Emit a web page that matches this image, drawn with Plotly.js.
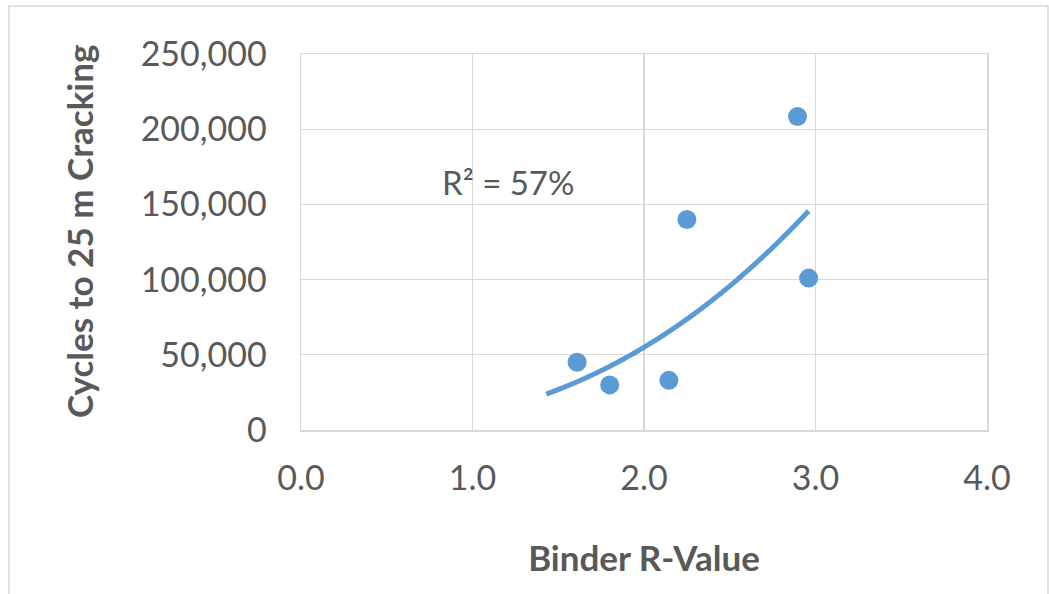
<!DOCTYPE html>
<html>
<head>
<meta charset="utf-8">
<script src="https://cdn.plot.ly/plotly-3.0.1.min.js"></script>
<style>html,body{margin:0;padding:0;background:#fff;}#chart{width:1049px;height:594px;}</style>
</head>
<body>
<div id="chart"></div>
<script>
// Data
const binderR = [1.61, 1.80, 2.145, 2.25, 2.895, 2.96];
const cycles = [45000, 30000, 33000, 140000, 208500, 101000];
const xTickVals = [0, 1, 2, 3, 4];
const yTickVals = [0, 50000, 100000, 150000, 200000, 250000];
const trendBackward = 0.18; // Excel-style backward forecast on the trendline

// Power trendline fit (least squares in log-log space)
const lx = binderR.map(Math.log), ly = cycles.map(Math.log);
const n = lx.length;
const mx = lx.reduce((a,b)=>a+b,0)/n, my = ly.reduce((a,b)=>a+b,0)/n;
let sxy=0, sxx=0, syy=0;
for (let i=0;i<n;i++){sxy+=(lx[i]-mx)*(ly[i]-my);sxx+=(lx[i]-mx)**2;syy+=(ly[i]-my)**2;}
const b = sxy/sxx, lnA = my - b*mx;
const r2 = sxy*sxy/(sxx*syy);
const x0 = Math.min(...binderR) - trendBackward, x1 = Math.max(...binderR);
const tx=[], ty=[];
for (let i=0;i<=80;i++){const x=x0+(x1-x0)*i/80;tx.push(x);ty.push(Math.exp(lnA)*Math.pow(x,b));}

const blue = '#5b9bd5';
const grey = '#595959';
const grid = '#d9d9d9';
const font = 'Lato, "Open Sans", sans-serif';

const traces = [
  {x: tx, y: ty, mode:'lines', line:{color: blue, width:5, shape:'spline'}, hoverinfo:'skip', showlegend:false},
  {x: binderR, y: cycles, mode:'markers', marker:{color: blue, size:19}, showlegend:false}
];

const W=1049, H=594, L=301, R=62, T=54, B=164;
const pw=W-L-R, ph=H-T-B;
const layout = {
  width: W, height: H, autosize:false,
  margin:{l:L, r:R, t:T, b:B, pad:0},
  paper_bgcolor:'#fff', plot_bgcolor:'#fff',
  font:{family: font, color: grey},
  xaxis:{
    range:[0,4], tickvals: xTickVals, tickformat:'.1f',
    showgrid:true, gridcolor: grid, gridwidth:1.3,
    showline:true, linecolor: grid, linewidth:1.5, mirror:true,
    zeroline:false, ticks:'', ticklabelstandoff: 18,
    tickfont:{size:34, color: grey, family: font},
    title:{text:'Binder R-Value', font:{size:35, color: grey, family: font, weight:'bold'}, standoff: 50},
    fixedrange:true
  },
  yaxis:{
    range:[0,250000], tickvals: yTickVals, tickformat:',d',
    showgrid:true, gridcolor: grid, gridwidth:1.3,
    showline:true, linecolor: grid, linewidth:1.5, mirror:true,
    zeroline:false, ticks:'', ticklabelstandoff: 26,
    tickfont:{size:34, color: grey, family: font},
    fixedrange:true
  },
  annotations:[{
    xref:'x', yref:'y', x:0.81, y:165000, xanchor:'left', yanchor:'middle',
    text:'R² = ' + Math.round(r2*100) + '%', showarrow:false,
    font:{size:33, color: grey, family: font}
  },{
    xref:'paper', yref:'paper', x:(79-L)/pw, y:(T+ph-232)/ph, xanchor:'center', yanchor:'middle',
    text:'<b>Cycles to 25 m Cracking</b>', textangle:-90, showarrow:false,
    font:{size:35, color: grey, family: font}
  }],
  shapes:[{
    type:'rect', xref:'paper', yref:'paper', layer:'below',
    x0:(9-L)/pw, x1:(1048-L)/pw, y0:(T+ph-600)/ph, y1:(T+ph-6)/ph,
    line:{color: grid, width:1.5}, fillcolor:'rgba(0,0,0,0)'
  }]
};
Plotly.newPlot('chart', traces, layout, {displayModeBar:false, staticPlot:true});
</script>
</body>
</html>
